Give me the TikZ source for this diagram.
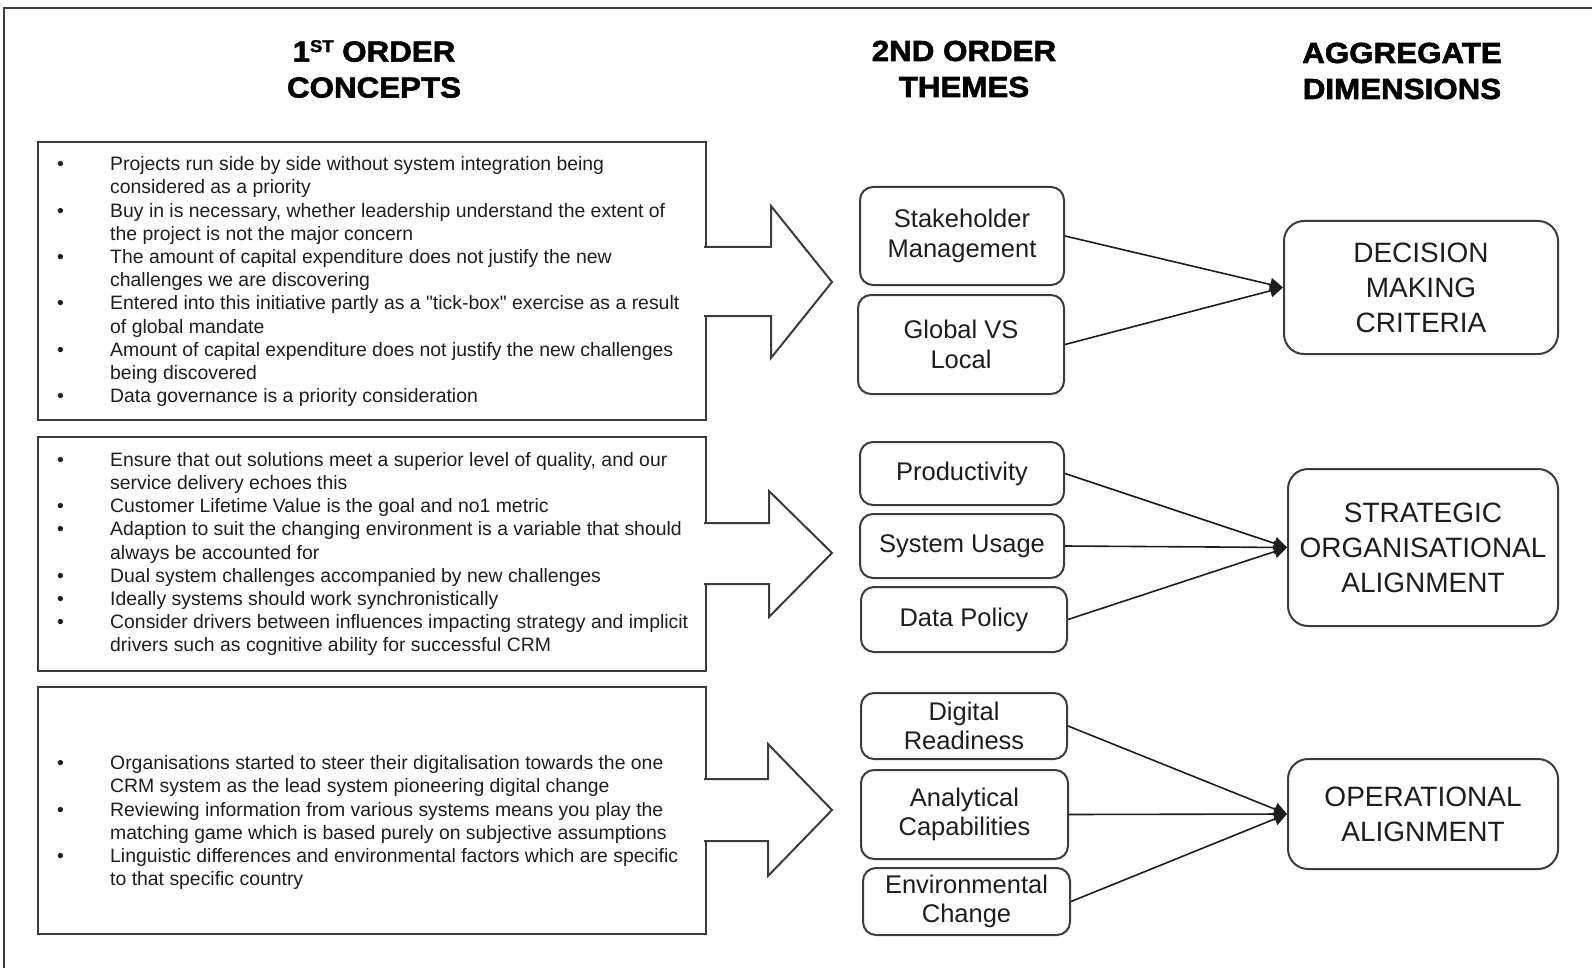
\documentclass[tikz,border=0pt]{standalone}
\usepackage{fontspec}
\setmainfont[Ligatures=TeXOff]{Liberation Sans}
\newfontfamily\headfont[FakeStretch=1.08,FakeBold=2]{Liberation Sans}
\usetikzlibrary{arrows.meta}

\definecolor{ink}{HTML}{1E1E1E}
\definecolor{edge}{HTML}{3C3C3C}

% bullet lines of the concept boxes
\newcommand{\bul}{\strut\makebox[53pt][l]{•}}
\newcommand{\ind}{\strut\hspace*{53pt}}

\tikzset{
  frame/.style={draw=edge, line width=2pt},
  concept/.style={anchor=north west, inner sep=0pt, align=left, text=ink,
    font=\fontsize{19.4}{23.2}\selectfont},
  blockarrow/.style={draw=edge, fill=white, line width=2pt, line join=miter},
  theme/.style={draw=edge, line width=2pt, rounded corners=13pt, align=center,
    text=ink, inner sep=0pt, font=\fontsize{25.5}{29.5}\selectfont},
  dimension/.style={draw=edge, line width=2pt, rounded corners=20pt, align=center,
    text=ink, inner sep=0pt, font=\fontsize{28}{35}\selectfont},
  heading/.style={align=center, text=black, inner sep=0pt,
    font=\headfont\bfseries\fontsize{29}{36}\selectfont},
  link/.style={draw=ink, line width=1.6pt, -{Triangle[length=13pt,width=13pt]}}
}

\begin{document}
\begin{tikzpicture}[x=1pt, y=-1pt]
\useasboundingbox (0,0) rectangle (1592,968);
\fill[white] (0,0) rectangle (1592,968);

% outer frame (top and left edges)
\draw[frame] (4,980) -- (4,8) -- (1600,8);

% column headings
\node[heading] (h1) at (374,69) {1\raisebox{0.33em}{\fontsize{17}{17}\selectfont ST} ORDER\\CONCEPTS};
\node[heading] (h2) at (964,69) {2ND ORDER\\THEMES};
\node[heading] (h3) at (1402,71) {AGGREGATE\\DIMENSIONS};

% first order concept boxes
\draw[frame] (38,142) rectangle (706,420);
\draw[frame] (38,437) rectangle (706,671);
\draw[frame] (38,687) rectangle (706,934);

\node[concept] (c1) at (57,154.2) {%
\bul Projects run side by side without system integration being\\
\ind considered as a priority\\
\bul Buy in is necessary, whether leadership understand the extent of\\
\ind the project is not the major concern\\
\bul The amount of capital expenditure does not justify the new\\
\ind challenges we are discovering\\
\bul Entered into this initiative partly as a "tick-box" exercise as a result\\
\ind of global mandate\\
\bul Amount of capital expenditure does not justify the new challenges\\
\ind being discovered\\
\bul Data governance is a priority consideration};

\node[concept] (c2) at (57,449.8) {%
\bul Ensure that out solutions meet a superior level of quality, and our\\
\ind service delivery echoes this\\
\bul Customer Lifetime Value is the goal and no1 metric\\
\bul Adaption to suit the changing environment is a variable that should\\
\ind always be accounted for\\
\bul Dual system challenges accompanied by new challenges\\
\bul Ideally systems should work synchronistically\\
\bul Consider drivers between influences impacting strategy and implicit\\
\ind drivers such as cognitive ability for successful CRM};

\node[concept] (c3) at (57,753.3) {%
\bul Organisations started to steer their digitalisation towards the one\\
\ind CRM system as the lead system pioneering digital change\\
\bul Reviewing information from various systems means you play the\\
\ind matching game which is based purely on subjective assumptions\\
\bul Linguistic differences and environmental factors which are specific\\
\ind to that specific country};

% block arrows from the concept boxes to the themes
\filldraw[blockarrow] (704,247) -- (771,247) -- (771,206) -- (832,282)
  -- (771,358) -- (771,316) -- (704,316);
\filldraw[blockarrow] (704,523) -- (769,523) -- (769,491) -- (832,553)
  -- (769,617) -- (769,584) -- (704,584);
\filldraw[blockarrow] (704,779) -- (768,779) -- (768,744) -- (832,810)
  -- (768,876) -- (768,841) -- (704,841);

% second order themes
\node[theme, minimum width=204pt, minimum height=98pt] (stake) at (962,236) {Stakeholder\\Management};
\node[theme, minimum width=206pt, minimum height=99pt] (glob) at (961,344.5) {Global VS\\Local};
\node[theme, minimum width=204pt, minimum height=63pt] (prod) at (962,473.5) {Productivity};
\node[theme, minimum width=204pt, minimum height=64pt] (usage) at (962,546) {System Usage};
\node[theme, minimum width=206pt, minimum height=65pt] (policy) at (964,619.5) {Data Policy};
\node[theme, minimum width=206pt, minimum height=66pt] (digit) at (964,726) {Digital\\Readiness};
\node[theme, minimum width=207pt, minimum height=89pt] (analyt) at (964.5,814.5) {Analytical\\Capabilities};
\node[theme, minimum width=207pt, minimum height=67pt] (envir) at (966.5,901.5) {Environmental\\Change};

% aggregate dimensions
\node[dimension, minimum width=274pt, minimum height=133pt] (dmc) at (1421,287.5) {DECISION\\MAKING\\CRITERIA};
\node[dimension, minimum width=270pt, minimum height=157pt] (soa) at (1423,547.5) {STRATEGIC\\ORGANISATIONAL\\ALIGNMENT};
\node[dimension, minimum width=270pt, minimum height=110pt] (opa) at (1423,814) {OPERATIONAL\\ALIGNMENT};

% theme-to-dimension links
\draw[link] (stake.east) -- (dmc.west);
\draw[link] (glob.east) -- (dmc.west);
\draw[link] (prod.east) -- (soa.west);
\draw[link] (usage.east) -- (soa.west);
\draw[link] (policy.east) -- (soa.west);
\draw[link] (digit.east) -- (opa.west);
\draw[link] (analyt.east) -- (opa.west);
\draw[link] (envir.east) -- (opa.west);
\end{tikzpicture}
\end{document}
